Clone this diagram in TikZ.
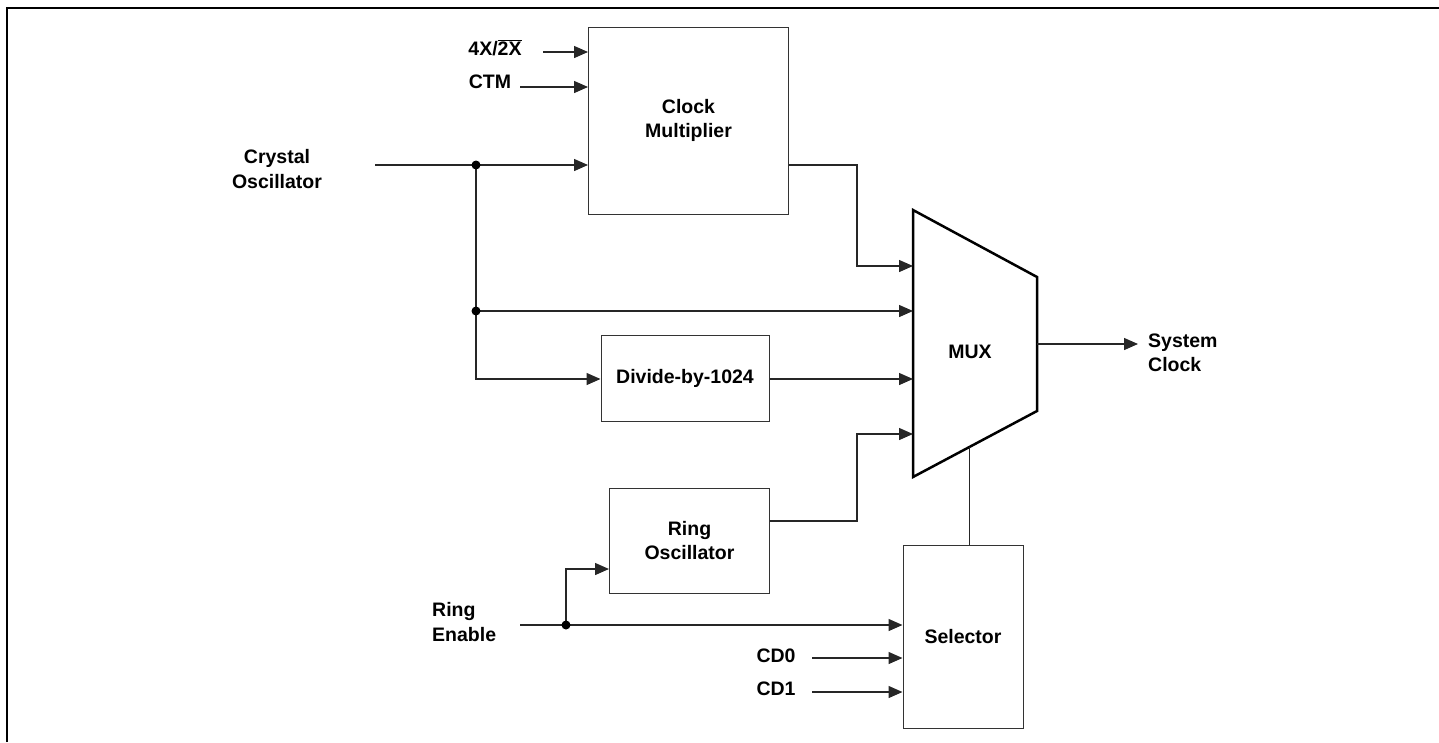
\documentclass[tikz,border=0pt]{standalone}
\usepackage{fontspec}
\setmainfont{Liberation Sans}
\usetikzlibrary{arrows.meta}

\begin{document}
\begin{tikzpicture}[x=1pt,y=-1pt,
  font=\fontsize{19.5}{24.5}\selectfont\bfseries,
  box/.style={draw=black!80,line width=1pt,inner sep=0pt,align=center},
  txt/.style={inner sep=0pt,align=center},
  wire/.style={draw=black!85,line width=1.4pt},
  arr/.style={wire,-{Triangle[length=14pt,width=12pt]}}]
\useasboundingbox (0,0) rectangle (1439,742);
% frame:
\path[draw=black,line width=2pt] (7,742) -- (7,8) -- (1439,8);
% blocks:
\node[box,minimum width=200pt,minimum height=187pt] (cm) at (688.5,120.5) {Clock\\Multiplier};
\node[box,minimum width=168pt,minimum height=86pt] (div) at (685,378) {Divide-by-1024};
\node[box,minimum width=160pt,minimum height=105pt] (ro) at (689.5,540.5) {Ring\\Oscillator};
\node[box,minimum width=120pt,minimum height=183pt] (sel) at (963,636.5) {Selector};
% mux:
\path[draw=black,line width=2.5pt] (913,210) -- (1037,277) -- (1037,411) -- (913,477) -- cycle;
\node[txt] (mux) at (970,352) {MUX};
\coordinate (m1) at (913,266);
\coordinate (m2) at (913,311);
\coordinate (m3) at (913,379);
\coordinate (m4) at (913,434);
\coordinate (mo) at (1037,344);
\coordinate (ms) at (969,447);
% labels:
\node[txt,anchor=base] (mode) at (495,55) {4X/$\overline{\hbox{2X}}$};
\node[txt,anchor=base] (ctm) at (490,88) {CTM};
\node[txt] (xtal) at (277,169) {Crystal\\Oscillator};
\node[txt,align=left,anchor=west] (ren) at (432,622) {Ring\\Enable};
\node[txt,anchor=base] (cd0) at (776,662) {CD0};
\node[txt,anchor=base] (cd1) at (776,695) {CD1};
\node[txt,align=left,anchor=west] (sysclk) at (1148,353) {System\\Clock};
% wire ends and joints:
\coordinate (mode in) at (543,52);
\coordinate (ctm in) at (520,87);
\coordinate (xtal in) at (375,165);
\coordinate (ren in) at (520,625);
\coordinate (cd0 in) at (812,658);
\coordinate (cd1 in) at (812,692);
\coordinate (sys out) at (1138,344);
\coordinate (j1) at (476,165);
\coordinate (j2) at (476,311);
\coordinate (j3) at (566,625);
% connectors:
\draw[arr] (mode in) -- (cm.west |- mode in);
\draw[arr] (ctm in) -- (cm.west |- ctm in);
\draw[arr] (xtal in) -- (cm.west |- xtal in);
\draw[arr] (j1) |- (div.west |- m3);
\draw[arr] (j2) -- (m2);
\draw[arr] (div.east |- m3) -- (m3);
\draw[arr] (cm.east |- xtal in) -- ++(68,0) |- (m1);
\draw[arr] ([yshift=19.5pt]ro.east) -- ++(87,0) |- (m4);
\draw[arr] (ren in) -- (sel.west |- ren in);
\draw[arr] (j3) |- ([yshift=-28.5pt]ro.west);
\draw[arr] (cd0 in) -- (sel.west |- cd0 in);
\draw[arr] (cd1 in) -- (sel.west |- cd1 in);
\draw[arr] (mo) -- (sys out);
\draw[draw=black!85,line width=1pt] (ms) -- (ms |- sel.north);
\fill (j1) circle (4.5pt);
\fill (j2) circle (4.5pt);
\fill (j3) circle (4.5pt);
\end{tikzpicture}
\end{document}
